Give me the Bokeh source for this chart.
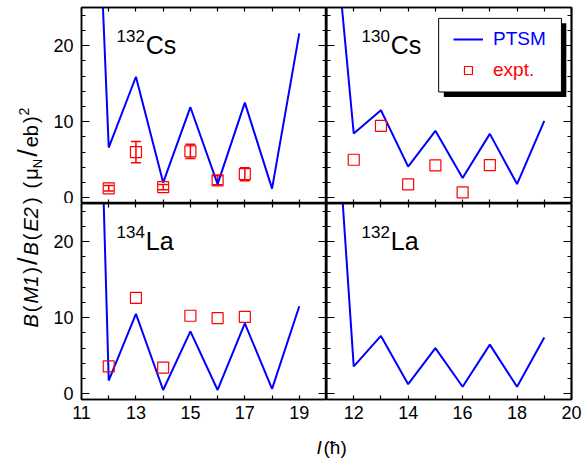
import math
from bokeh.plotting import figure
from bokeh.layouts import row, column
from bokeh.models import (Range1d, LinearAxis, FixedTicker, Label, Legend, LegendItem,
                          BoxAnnotation, Whisker, TeeHead, ColumnDataSource)
from bokeh.embed import file_html
from bokeh.resources import INLINE

# ---------------- data ----------------
spins = [11, 12, 13, 14, 15, 16, 17, 18, 19]
ptsm_132cs = [93.5, 6.6, 15.9, 2.0, 11.9, 1.8, 12.5, 1.2, 21.6]
ptsm_130cs = [46.7, 8.45, 11.5, 4.1, 8.8, 2.6, 8.4, 1.8, 10.1]
ptsm_134la = [128.0, 1.74, 10.5, 0.5, 8.2, 0.5, 9.25, 0.65, 11.5]
ptsm_132la = [56.8, 3.6, 7.6, 1.26, 6.0, 0.92, 6.46, 0.92, 7.4]

expt_spins = [12, 13, 14, 15, 16, 17]
expt_132cs = [1.25, 6.0, 1.4, 6.1, 2.3, 3.1]
expt_132cs_err = [0.35, 1.4, 0.35, 0.95, 0.6, 0.85]
expt_130cs = [5.0, 9.45, 1.75, 4.25, 0.7, 4.3]
expt_134la = [3.6, 12.6, 3.45, 10.25, 9.95, 10.1]

odd_ticks = [11, 13, 15, 17, 19]
even_ticks = [12, 14, 16, 18, 20]
all_x_ticks = [11, 12, 13, 14, 15, 16, 17, 18, 19, 20]
y_major = [0, 10, 20]
y_minor = [2, 4, 6, 8, 12, 14, 16, 18, 22, 24]

FONT = "Liberation Sans"
BLUE = "#0000ff"
RED = "#ff0000"

PAGE_W, PAGE_H = 583, 459
FRAME_W, FRAME_H = 245, 196
LEFT_B, RIGHT_B, TOP_B, BOT_B = 31, 12, 7, 27
YL_W = 50
X_MIN, X_MAX, Y_MIN, Y_MAX = 11, 20, -0.75, 25
BASE_SHIFT = 0.4  # anchor-to-baseline offset of "alphabetic" labels, in em

AX_STYLE = dict(axis_line_color="black", axis_line_width=1.5,
                major_tick_line_color="black", minor_tick_line_color="black",
                major_tick_line_width=1.2, minor_tick_line_width=1.2,
                major_tick_out=0, minor_tick_out=0)


def labelled_axis(p, side, major, minor, major_len, minor_len):
    ax = LinearAxis(ticker=FixedTicker(ticks=major, minor_ticks=minor),
                    major_tick_in=major_len, minor_tick_in=minor_len,
                    major_label_text_font=FONT, major_label_text_font_size="18px",
                    major_label_text_color="black",
                    major_label_standoff=6 if side == "below" else 8, **AX_STYLE)
    p.add_layout(ax, side)


def tick_only_axis(p, side, ticks, length):
    # ticks drawn as "minor" ticks so that no tick labels exist at all
    ax = LinearAxis(ticker=FixedTicker(ticks=[], minor_ticks=ticks),
                    major_tick_in=0, minor_tick_in=length, major_label_standoff=0,
                    **AX_STYLE)
    p.add_layout(ax, side)


def bare_figure(w, h, xr, yr):
    f = figure(width=w, height=h, x_range=xr, y_range=yr,
               output_backend="svg", toolbar_location=None,
               x_axis_location=None, y_axis_location=None,
               min_border=0, min_border_left=0, min_border_right=0,
               min_border_top=0, min_border_bottom=0)
    f.grid.visible = False
    f.outline_line_color = None
    return f


def panel(col, rw):
    left = LEFT_B if col == 0 else 0
    right = RIGHT_B if col == 1 else 0
    top = TOP_B if rw == 0 else 0
    bottom = BOT_B if rw == 1 else 0
    p = figure(width=FRAME_W + left + right, height=FRAME_H + top + bottom,
               x_range=Range1d(X_MIN, X_MAX), y_range=Range1d(Y_MIN, Y_MAX),
               output_backend="svg", toolbar_location=None,
               x_axis_location=None, y_axis_location=None,
               min_border_left=left, min_border_right=right,
               min_border_top=top, min_border_bottom=bottom)
    p.grid.visible = False
    p.outline_line_color = "black"
    p.outline_line_width = 1.5
    p.background_fill_color = "white"
    p.border_fill_color = "white"
    major_x = odd_ticks if col == 0 else even_ticks
    minor_x = even_ticks if col == 0 else odd_ticks
    if rw == 1:
        labelled_axis(p, "below", major_x, minor_x, 4, 4)
    else:
        tick_only_axis(p, "below", all_x_ticks, 4)
    tick_only_axis(p, "above", all_x_ticks, 4)
    if col == 0:
        labelled_axis(p, "left", y_major, y_minor, 8, 4)
    else:
        tick_only_axis(p, "left", y_major, 8)
        tick_only_axis(p, "left", y_minor, 4)
    tick_only_axis(p, "right", y_major, 8)
    tick_only_axis(p, "right", y_minor, 4)
    return p


def nucleus(p, mass, elem):
    p.add_layout(Label(x=12.29, y=20.5, text=mass, text_font=FONT,
                       text_font_size="17px", text_color="black"))
    p.add_layout(Label(x=13.36, y=18.2, text=elem, text_font=FONT,
                       text_font_size="25px", text_color="black"))


def theory(p, vals):
    return p.line(spins, vals, line_color=BLUE, line_width=2)


def expt(p, vals, err=None):
    src = ColumnDataSource(dict(x=expt_spins, y=vals))
    if err is not None:
        src.data["upper"] = [v + e for v, e in zip(vals, err)]
        src.data["lower"] = [v - e for v, e in zip(vals, err)]
        p.add_layout(Whisker(source=src, base="x", upper="upper", lower="lower",
                             line_color=RED, line_width=1.5,
                             upper_head=TeeHead(size=10, line_color=RED, line_width=1.5),
                             lower_head=TeeHead(size=10, line_color=RED, line_width=1.5)))
    return p.scatter("x", "y", source=src, marker="square", size=11,
                     fill_color=None, line_color=RED, line_width=1.2)


p_tl = panel(0, 0)
p_tr = panel(1, 0)
p_bl = panel(0, 1)
p_br = panel(1, 1)

theory(p_tl, ptsm_132cs)
expt(p_tl, expt_132cs, expt_132cs_err)
nucleus(p_tl, "132", "Cs")

r_line = theory(p_tr, ptsm_130cs)
r_sq = expt(p_tr, expt_130cs)
nucleus(p_tr, "130", "Cs")

theory(p_bl, ptsm_134la)
expt(p_bl, expt_134la)
nucleus(p_bl, "134", "La")

theory(p_br, ptsm_132la)
nucleus(p_br, "132", "La")

# legend box with drop shadow
p_tr.add_layout(BoxAnnotation(left=15.31, right=19.81, top=22.92, bottom=13.24,
                              fill_color="black", fill_alpha=1, line_color=None))
p_tr.add_layout(BoxAnnotation(left=15.12, right=19.63, top=23.57, bottom=13.9,
                              fill_color="white", fill_alpha=1, line_color="black",
                              line_width=1, line_alpha=1))
common = dict(padding=0, margin=0, spacing=0, border_line_color=None,
              background_fill_alpha=0, label_text_font=FONT, label_text_font_size="19px",
              glyph_width=30, glyph_height=20, label_standoff=10, label_height=20)
leg_a = Legend(items=[LegendItem(label="PTSM", renderers=[r_line])],
               location=(127, 153), label_text_color=BLUE, **common)
leg_b = Legend(items=[LegendItem(label="expt.", renderers=[r_sq])],
               location=(127, 122), label_text_color=RED, **common)
p_tr.add_layout(leg_a)
p_tr.add_layout(leg_b)

# ---------------- y axis title (vertical, mixed styles), page-pixel coordinates ----------------
YL_H = 2 * FRAME_H + TOP_B + BOT_B
ylab = bare_figure(YL_W, YL_H, Range1d(0, YL_W), Range1d(YL_H, 0))

W = {"B": 667, "(": 333, ")": 333, "M": 833, "1": 556, "2": 556, "E": 667,
     "/": 278, " ": 278, "μ": 576, "N": 722, "e": 556, "b": 556}
parts = [  # text, style, size, perpendicular shift of the baseline, gap before
    ("B", "italic", 20, 0, 0), ("(", "normal", 20, 0, 2), ("M1", "italic", 20, 0, 2),
    (")", "normal", 20, 0, 2), ("/", "normal", 27, 0, 2), ("B", "italic", 20, 0, 2),
    ("(", "normal", 20, 0, 2), ("E2", "italic", 20, 0, 2), (")", "normal", 20, 0, 3),
    ("(", "normal", 20, 0, 9), ("μ", "normal", 20, 0, 2), ("N", "normal", 13, 4, 0),
    ("/", "normal", 27, 0, 2), ("eb", "normal", 20, 0, 2), (")", "normal", 20, 0, 2),
    ("2", "normal", 14, -9, 1)]
BASELINE_X = 38
pos = 327.0
for txt, style, size, shift, gap in parts:
    pos -= gap
    ylab.add_layout(Label(x=BASELINE_X + shift - BASE_SHIFT * size, y=pos, text=txt,
                          angle=math.pi / 2, text_font=FONT, text_font_size=f"{size}px",
                          text_font_style=style, text_align="left",
                          text_baseline="alphabetic", text_color="black"))
    pos -= sum(W[c] for c in txt) * size / 1000.0

# ---------------- x axis title, page-pixel coordinates ----------------
XL_H = PAGE_H - YL_H
xlab = bare_figure(PAGE_W, XL_H, Range1d(0, PAGE_W), Range1d(PAGE_H, YL_H))
X_BASELINE = 455 - BASE_SHIFT * 19
xlab.add_layout(Label(x=316, y=X_BASELINE, text="I", text_font=FONT, text_font_size="19px",
                      text_font_style="italic", text_baseline="alphabetic", text_color="black"))
xlab.add_layout(Label(x=323, y=X_BASELINE, text="(ħ)", text_font=FONT, text_font_size="19px",
                      text_baseline="alphabetic", text_color="black"))

panels = column(row(p_tl, p_tr, spacing=0), row(p_bl, p_br, spacing=0), spacing=0)
layout = column(row(ylab, panels, spacing=0), xlab, spacing=0)

open("out.html", "w").write(file_html(layout, INLINE))
